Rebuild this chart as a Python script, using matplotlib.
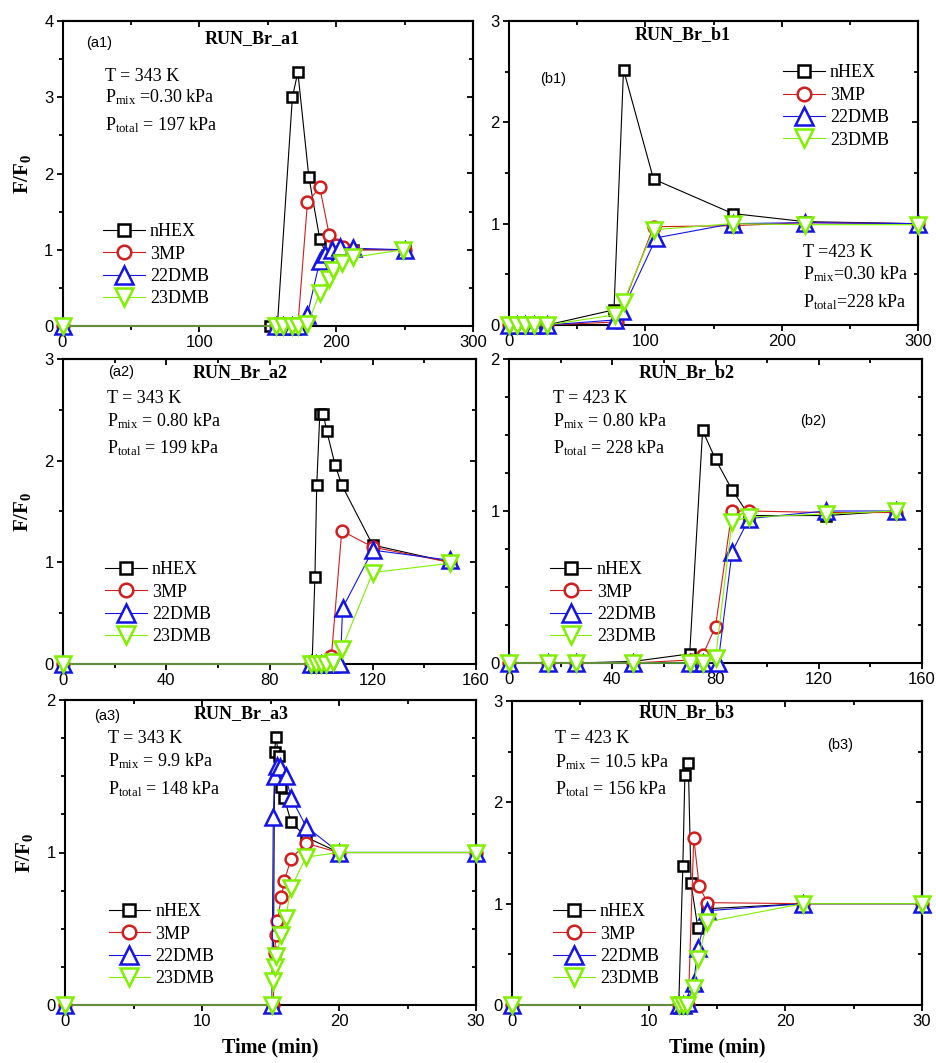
# ==========================================
# F/F0 breakthrough curves, 6 panels
# ==========================================

import matplotlib
matplotlib.use("Agg")
import matplotlib.pyplot as plt
from matplotlib.ticker import MultipleLocator

# ==========================================
# DATA
# ==========================================

SERIES = ["nHEX", "3MP", "22DMB", "23DMB"]

# --- a1 ---
a1_nhex_t = [0, 152, 157, 168, 172, 180, 188, 193, 200, 212, 250]
a1_nhex = [0, 0, 0, 3.00, 3.33, 1.96, 1.14, 0.93, 1.00, 1.00, 1.00]
a1_3mp_t = [0, 156, 161, 168, 172, 179, 188, 195, 200, 205, 212, 250]
a1_3mp = [0, 0, 0, 0, 0, 1.62, 1.82, 1.19, 1.06, 1.03, 1.00, 1.00]
a1_22dmb_t = [0, 156, 161, 168, 172, 179, 188, 192, 197, 203, 212, 250]
a1_22dmb = [0, 0, 0, 0, 0, 0.15, 0.85, 0.95, 1.00, 1.03, 1.02, 1.00]
a1_23dmb_t = [0, 156, 161, 168, 172, 179, 188, 195, 198, 204, 212, 249]
a1_23dmb = [0, 0, 0, 0, 0, 0.02, 0.43, 0.62, 0.73, 0.82, 0.90, 1.00]

# --- b1 ---
b1_nhex_t = [0, 6, 12, 18, 28, 77, 84, 106, 164, 217, 300]
b1_nhex = [0, 0, 0, 0, 0, 0.15, 2.52, 1.44, 1.10, 1.02, 1.00]
b1_3mp_t = [0, 6, 12, 18, 28, 79, 106, 164, 217, 300]
b1_3mp = [0, 0, 0, 0, 0, 0.03, 0.97, 0.98, 1.01, 1.00]
b1_22dmb_t = [0, 6, 12, 18, 28, 78, 83, 108, 164, 217, 300]
b1_22dmb = [0, 0, 0, 0, 0, 0.05, 0.14, 0.86, 1.00, 1.01, 1.00]
b1_23dmb_t = [0, 6, 12, 18, 28, 78, 84, 106, 164, 217, 300]
b1_23dmb = [0, 0, 0, 0, 0, 0.10, 0.23, 0.94, 1.00, 0.99, 0.99]

# --- a2 ---
a2_nhex_t = [0, 96.5, 97.6, 98.3, 99.5, 100.8, 102.2, 105.4, 108, 120, 150]
a2_nhex = [0, 0, 0.86, 1.76, 2.46, 2.46, 2.29, 1.96, 1.76, 1.17, 1.00]
a2_3mp_t = [0, 96, 98, 100, 102, 104, 108, 120, 150]
a2_3mp = [0, 0, 0, 0, 0, 0.08, 1.31, 1.15, 1.00]
a2_22dmb_t = [0, 96, 98, 100, 102, 104, 107.5, 108.3, 120, 150]
a2_22dmb = [0, 0, 0, 0, 0, 0, 0, 0.55, 1.12, 1.02]
a2_23dmb_t = [0, 96, 98, 100, 102, 104.7, 108, 120, 150]
a2_23dmb = [0, 0, 0, 0, 0, 0.02, 0.15, 0.90, 0.99]

# --- b2 ---
b2_nhex_t = [0, 15, 26, 48, 70, 75, 80, 86.4, 93, 122.7, 150]
b2_nhex = [0, 0, 0, 0.01, 0.06, 1.53, 1.34, 1.14, 0.97, 0.97, 1.00]
b2_3mp_t = [0, 15, 26, 48, 70.5, 75, 80, 86.4, 93, 122.7, 150]
b2_3mp = [0, 0, 0, 0, 0.02, 0.05, 0.24, 1.00, 1.00, 0.99, 0.99]
b2_22dmb_t = [0, 15, 26, 48, 70, 75, 81, 86.4, 93, 122.7, 150]
b2_22dmb = [0, 0, 0, 0, 0, 0, 0, 0.73, 0.95, 1.00, 1.00]
b2_23dmb_t = [0, 15, 26, 48, 70, 75, 80, 86.4, 93, 122.7, 150]
b2_23dmb = [0, 0, 0, 0, 0, 0, 0.03, 0.93, 0.96, 0.98, 1.00]

# --- a3 ---
a3_nhex_t = [0, 15.2, 15.3, 15.4, 15.6, 15.8, 16.0, 16.5, 17.6, 20, 30]
a3_nhex = [0, 0, 1.66, 1.76, 1.63, 1.43, 1.36, 1.20, 1.10, 1.00, 1.00]
a3_3mp_t = [0, 15.2, 15.3, 15.4, 15.5, 15.8, 16.0, 16.5, 17.6, 20, 30]
a3_3mp = [0, 0, 0.34, 0.46, 0.55, 0.71, 0.81, 0.96, 1.06, 1.00, 1.00]
a3_22dmb_t = [0, 15.1, 15.2, 15.3, 15.5, 15.7, 16.1, 16.5, 17.6, 20, 30]
a3_22dmb = [0, 0, 1.23, 1.50, 1.57, 1.56, 1.50, 1.36, 1.17, 1.00, 1.00]
a3_23dmb_t = [0, 15.1, 15.2, 15.3, 15.4, 15.8, 16.1, 16.5, 17.6, 20, 30]
a3_23dmb = [0, 0, 0.16, 0.25, 0.32, 0.46, 0.57, 0.77, 0.97, 1.00, 1.00]

# --- b3 ---
b3_nhex_t = [0, 12.2, 12.5, 12.65, 12.9, 13.1, 13.6, 14.3, 21.3, 30]
b3_nhex = [0, 0, 1.37, 2.27, 2.39, 1.20, 0.76, 0.95, 1.00, 1.00]
b3_3mp_t = [0, 12.2, 12.5, 12.9, 13.3, 13.7, 14.3, 21.3, 30]
b3_3mp = [0, 0, 0, 0, 1.65, 1.17, 1.01, 1.00, 1.00]
b3_22dmb_t = [0, 12.2, 12.5, 12.9, 13.3, 13.6, 14.3, 21.3, 30]
b3_22dmb = [0, 0, 0, 0.02, 0.22, 0.56, 0.93, 1.00, 1.00]
b3_23dmb_t = [0, 12.2, 12.5, 12.8, 13.3, 13.6, 14.3, 21.3, 30]
b3_23dmb = [0, 0, 0, 0, 0.17, 0.45, 0.82, 1.00, 1.00]

# ==========================================
# STYLE
# ==========================================

plt.rcParams["font.family"] = ["Liberation Serif", "DejaVu Serif"]
plt.rcParams["mathtext.fontset"] = "custom"
plt.rcParams["mathtext.rm"] = "Liberation Serif"
plt.rcParams["mathtext.it"] = "Liberation Serif:italic"
plt.rcParams["mathtext.bf"] = "Liberation Serif:bold"

COLORS = ["black", "#D01E1E", "#1414E6", "#80F000"]
MARKERS = ["s", "o", "^", "v"]
MSIZES = [7.5, 8.5, 11, 11]

W, H = 936, 1063

# ==========================================
# PANEL SETUP
# ==========================================

panels = [
    dict(
        key="a1", box=(62.5, 21, 473, 326), xlim=300, xmaj=100, ylim=4, ymin=0.5,
        data=[(a1_nhex_t, a1_nhex), (a1_3mp_t, a1_3mp),
              (a1_22dmb_t, a1_22dmb), (a1_23dmb_t, a1_23dmb)],
        tag=(0.057, 0.928), title=(0.462, 0.944),
        cond=(0.1035, [0.803, 0.734, 0.643]),
        lines=["T = 343 K", r"P$_{\rm mix}$ =0.30 kPa", r"P$_{\rm total}$ = 197 kPa"],
        leg=(0.099, 0.337), ylabel=True, xlabel=False,
    ),
    dict(
        key="b1", box=(509, 21, 918, 325), xlim=300, xmaj=100, ylim=3, ymin=0.5,
        data=[(b1_nhex_t, b1_nhex), (b1_3mp_t, b1_3mp),
              (b1_22dmb_t, b1_22dmb), (b1_23dmb_t, b1_23dmb)],
        tag=(0.076, 0.809), title=(0.425, 0.954),
        cond=(0.719, [0.224, 0.151, 0.059]),
        lines=["T =423 K", r"P$_{\rm mix}$=0.30 kPa", r"P$_{\rm total}$=228 kPa"],
        leg=(0.670, 0.857), ylabel=False, xlabel=False,
    ),
    dict(
        key="a2", box=(63, 359, 476, 664), xlim=160, xmaj=40, ylim=3, ymin=0.5,
        data=[(a2_nhex_t, a2_nhex), (a2_3mp_t, a2_3mp),
              (a2_22dmb_t, a2_22dmb), (a2_23dmb_t, a2_23dmb)],
        tag=(0.109, 0.957), title=(0.429, 0.957),
        cond=(0.107, [0.856, 0.780, 0.692]),
        lines=["T = 343 K", r"P$_{\rm mix}$ = 0.80 kPa", r"P$_{\rm total}$ = 199 kPa"],
        leg=(0.102, 0.337), ylabel=True, xlabel=False,
    ),
    dict(
        key="b2", box=(509, 359, 922, 663), xlim=160, xmaj=40, ylim=2, ymin=0.25,
        data=[(b2_nhex_t, b2_nhex), (b2_3mp_t, b2_3mp),
              (b2_22dmb_t, b2_22dmb), (b2_23dmb_t, b2_23dmb)],
        tag=(0.705, 0.796), title=(0.429, 0.957),
        cond=(0.107, [0.855, 0.780, 0.691]),
        lines=["T = 423 K", r"P$_{\rm mix}$ = 0.80 kPa", r"P$_{\rm total}$ = 228 kPa"],
        leg=(0.099, 0.335), ylabel=False, xlabel=False,
    ),
    dict(
        key="a3", box=(65, 700, 476, 1005), xlim=30, xmaj=10, ylim=2, ymin=0.25,
        data=[(a3_nhex_t, a3_nhex), (a3_3mp_t, a3_3mp),
              (a3_22dmb_t, a3_22dmb), (a3_23dmb_t, a3_23dmb)],
        tag=(0.0706, 0.948), title=(0.428, 0.957),
        cond=(0.105, [0.859, 0.784, 0.692]),
        lines=["T = 343 K", r"P$_{\rm mix}$ = 9.9 kPa", r"P$_{\rm total}$ = 148 kPa"],
        leg=(0.106, 0.334), ylabel=True, xlabel=True,
    ),
    dict(
        key="b3", box=(512, 701, 922, 1005), xlim=30, xmaj=10, ylim=3, ymin=0.5,
        data=[(b3_nhex_t, b3_nhex), (b3_3mp_t, b3_3mp),
              (b3_22dmb_t, b3_22dmb), (b3_23dmb_t, b3_23dmb)],
        tag=(0.768, 0.855), title=(0.427, 0.961),
        cond=(0.105, [0.862, 0.783, 0.694]),
        lines=["T = 423 K", r"P$_{\rm mix}$ = 10.5 kPa", r"P$_{\rm total}$ = 156 kPa"],
        leg=(0.100, 0.335), ylabel=False, xlabel=True,
    ),
]

# ==========================================
# DRAW
# ==========================================

fig = plt.figure(figsize=(W / 100, H / 100), dpi=100)

for p in panels:

    x0, y0, x1, y1 = p["box"]

    ax = fig.add_axes([x0 / W, 1 - y1 / H, (x1 - x0) / W, (y1 - y0) / H])

    for i, (t, v) in enumerate(p["data"]):
        ax.plot(
            t, v,
            color=COLORS[i],
            lw=0.8,
            marker=MARKERS[i],
            ms=MSIZES[i],
            mfc="white",
            mec=COLORS[i],
            mew=1.8,
            label=SERIES[i],
            clip_on=False,
            zorder=3 + i,
        )

    ax.set_xlim(0, p["xlim"])
    ax.set_ylim(0, p["ylim"])

    ax.xaxis.set_major_locator(MultipleLocator(p["xmaj"]))
    ax.xaxis.set_minor_locator(MultipleLocator(p["xmaj"] / 2))
    ax.yaxis.set_major_locator(MultipleLocator(1))
    ax.yaxis.set_minor_locator(MultipleLocator(p["ymin"]))

    ax.tick_params(which="both", direction="out", top=False, right=False,
                   width=1.3, labelsize=12, labelfontfamily="Liberation Sans")
    ax.tick_params(which="major", length=4.5, pad=2)
    ax.tick_params(which="minor", length=3)

    # mirrored ticks pointing inward
    top = ax.secondary_xaxis("top")
    top.xaxis.set_major_locator(MultipleLocator(p["xmaj"]))
    top.xaxis.set_minor_locator(MultipleLocator(p["xmaj"] / 2))
    top.tick_params(which="both", direction="in", labeltop=False, width=1.3)
    top.tick_params(which="major", length=4.5)
    top.tick_params(which="minor", length=3)

    right = ax.secondary_yaxis("right")
    right.yaxis.set_major_locator(MultipleLocator(1))
    right.yaxis.set_minor_locator(MultipleLocator(p["ymin"]))
    right.tick_params(which="both", direction="in", labelright=False, width=1.3)
    right.tick_params(which="major", length=4.5)
    right.tick_params(which="minor", length=3)

    for s in list(ax.spines.values()) + [top.spines["top"], right.spines["right"]]:
        s.set_linewidth(1.5)

    # labels
    ax.text(*p["tag"], "(" + p["key"] + ")", transform=ax.transAxes,
            fontsize=10.5, family="Liberation Sans", ha="left", va="center")

    ax.text(*p["title"], "RUN_Br_" + p["key"], transform=ax.transAxes,
            fontsize=13, fontweight="bold", ha="center", va="center")

    cx, cys = p["cond"]
    for txt, cy in zip(p["lines"], cys):
        ax.text(cx, cy, txt, transform=ax.transAxes,
                fontsize=13, ha="left", va="baseline")

    ax.legend(
        loc="upper left",
        bbox_to_anchor=p["leg"],
        frameon=False,
        borderpad=0,
        borderaxespad=0,
        handlelength=2.3,
        handletextpad=0.3,
        labelspacing=0.3,
        markerscale=1.15,
        fontsize=13,
    )

    if p["ylabel"]:
        ax.set_ylabel(r"$\mathbf{F/F_0}$", fontsize=15, labelpad=8)

    if p["xlabel"]:
        ax.set_xlabel("Time (min)", fontsize=14.5, fontweight="bold", labelpad=6)

# ==========================================
# SAVE FIGURE
# ==========================================

fig.savefig("out.png", dpi=100)
